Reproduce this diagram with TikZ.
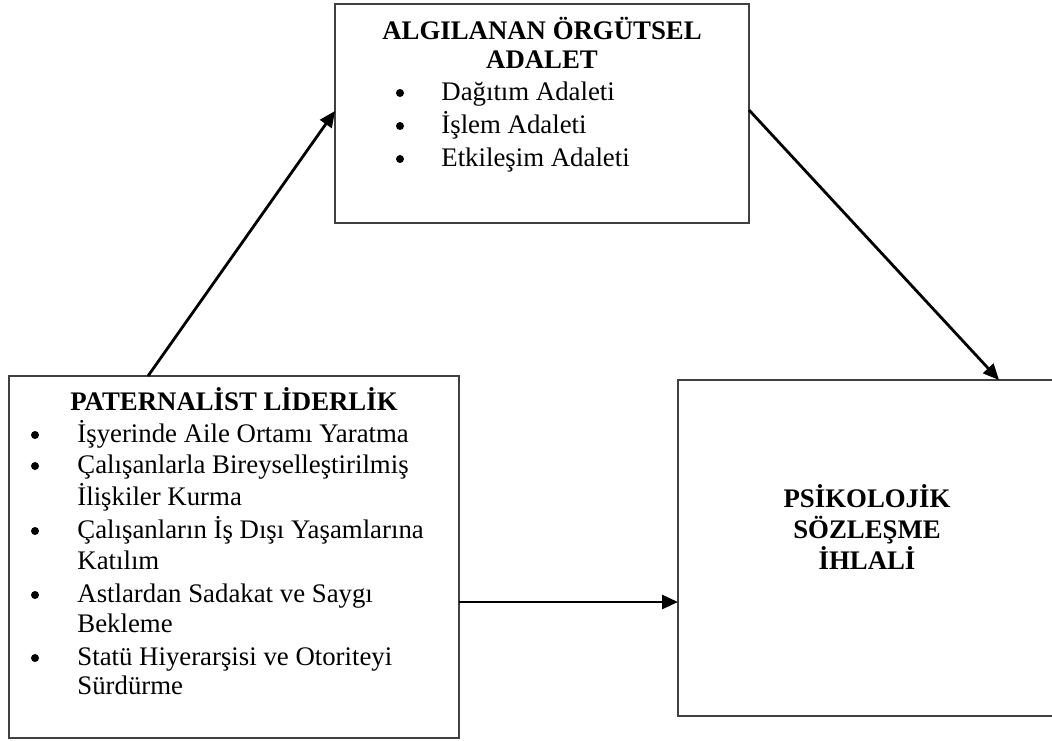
\documentclass[tikz,border=0pt]{standalone}
\usepackage{fontspec}
\setmainfont{Liberation Serif}
\usetikzlibrary{arrows.meta,calc}
\begin{document}
\begin{tikzpicture}[x=0.5pt,y=-0.5pt,
  box/.style={draw=black!75, line width=0.7pt, inner sep=0pt, outer sep=0pt, rectangle},
  txt/.style={inner sep=0pt, font=\fontsize{13.4}{15}\selectfont},
  ttl/.style={inner sep=0pt, font=\fontsize{13.4}{15}\selectfont\bfseries},
  dot/.style={circle, fill=black, inner sep=0pt, minimum size=4pt},
  arr/.style={line width=1.4pt, -{Triangle[length=8pt,width=7pt]}}]
\useasboundingbox (0,0) rectangle (1052,740);
% boxes
\node[box, minimum width=207pt, minimum height=109.5pt] (adalet) at (542,113.5) {};
\node[box, minimum width=225pt, minimum height=181pt] (pat) at (234,557) {};
\node[box, minimum width=189pt, minimum height=168pt] (psk) at (867,548) {};
% top box text
\node[ttl, anchor=base] (a1) at (542,39) {ALGILANAN ÖRGÜTSEL};
\node[ttl, anchor=base] (a2) at (542,68) {ADALET};
\node[dot] (ab1) at (400,93) {};
\node[txt, anchor=base west] (ai1) at (441,100) {Dağıtım Adaleti};
\node[dot] (ab2) at (400,126) {};
\node[txt, anchor=base west] (ai2) at (441,133) {İşlem Adaleti};
\node[dot] (ab3) at (400,159) {};
\node[txt, anchor=base west] (ai3) at (441,166) {Etkileşim Adaleti};
% left box text
\node[ttl, anchor=base] (p0) at (234,410) {PATERNALİST LİDERLİK};
\node[dot] (pb1) at (35,435) {};
\node[txt, anchor=base west] (p1) at (77,442) {İşyerinde Aile Ortamı Yaratma};
\node[dot] (pb2) at (35,466) {};
\node[txt, anchor=base west] (p2) at (77,473) {Çalışanlarla Bireyselleştirilmiş};
\node[txt, anchor=base west] (p2b) at (77,505) {İlişkiler Kurma};
\node[dot] (pb3) at (35,531) {};
\node[txt, anchor=base west] (p3) at (77,538) {Çalışanların İş Dışı Yaşamlarına};
\node[txt, anchor=base west] (p3b) at (77,569) {Katılım};
\node[dot] (pb4) at (35,595) {};
\node[txt, anchor=base west] (p4) at (77,602) {Astlardan Sadakat ve Saygı};
\node[txt, anchor=base west] (p4b) at (77,632) {Bekleme};
\node[dot] (pb5) at (35,658) {};
\node[txt, anchor=base west] (p5) at (77,665) {Statü Hiyerarşisi ve Otoriteyi};
\node[txt, anchor=base west] (p5b) at (77,694) {Sürdürme};
% right box text
\node[ttl, anchor=base] (s1) at (867,507) {PSİKOLOJİK};
\node[ttl, anchor=base] (s2) at (867,538) {SÖZLEŞME};
\node[ttl, anchor=base] (s3) at (867,569) {İHLALİ};
% connectors
\draw[arr] ([xshift=69.5pt]pat.north west) -- ([yshift=1.25pt]adalet.west);
\draw[arr] ([yshift=1.75pt]adalet.east) -- ([xshift=160.5pt]psk.north west);
\coordinate (h) at ([yshift=-22.5pt]pat.east);
\draw[arr] (h) -- (h -| psk.west);
\end{tikzpicture}
\end{document}
